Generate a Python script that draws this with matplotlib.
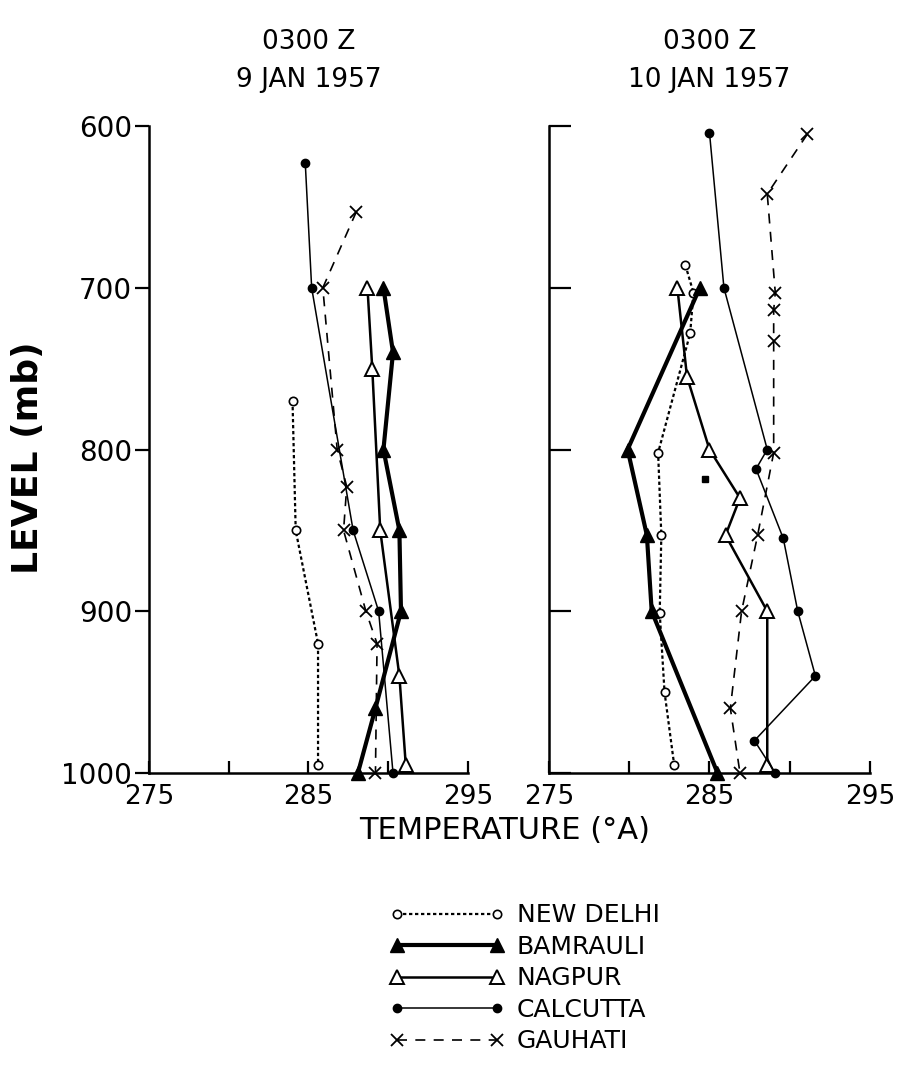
import matplotlib.pyplot as plt
import numpy as np

# ---- data (temperature in deg A, level in mb) ----
# 0300 Z 9 JAN 1957
dl9_t = [284.0, 284.2, 285.6, 285.6]
dl9_p = [770, 850, 920, 995]
bam9_t = [289.7, 290.3, 289.7, 290.7, 290.8, 289.2, 288.1]
bam9_p = [700, 740, 800, 850, 900, 960, 1000]
nag9_t = [288.7, 289.0, 289.5, 290.7, 291.1]
nag9_p = [700, 750, 850, 940, 995]
cal9_t = [284.8, 285.2, 287.8, 289.4, 290.3]
cal9_p = [623, 700, 850, 900, 1000]
gau9_t = [288.0, 285.9, 286.8, 287.4, 287.2, 288.6, 289.3, 289.2]
gau9_p = [653, 700, 800, 823, 850, 900, 920, 1000]

# 0300 Z 10 JAN 1957
dl10_t = [283.5, 284.0, 283.8, 281.8, 282.0, 281.9, 282.2, 282.8]
dl10_p = [686, 703, 728, 802, 853, 901, 950, 995]
bam10_t = [284.4, 279.9, 281.1, 281.4, 285.5]
bam10_p = [700, 800, 853, 900, 1000]
nag10_t = [283.0, 283.6, 285.0, 286.9, 286.0, 288.6, 288.6]
nag10_p = [700, 755, 800, 830, 853, 900, 995]
cal10_t = [285.0, 285.9, 288.6, 287.9, 289.6, 290.5, 291.6, 287.8, 289.1]
cal10_p = [604, 700, 800, 812, 855, 900, 940, 980, 1000]
cal10_extra_t = [284.7]
cal10_extra_p = [818]
gau10_t = [291.1, 288.6, 289.1, 289.0, 289.0, 289.0, 288.0, 287.0, 286.3, 286.9]
gau10_p = [605, 642, 703, 714, 733, 802, 853, 900, 960, 1000]

names = ['NEW DELHI', 'BAMRAULI', 'NAGPUR', 'CALCUTTA', 'GAUHATI']

styles = [
    dict(color='k', lw=1.6, ls=(0, (1.5, 1.2)), marker='o', ms=6, mfc='white', mew=1.2),
    dict(color='k', lw=3.0, ls='-', marker='^', ms=9.5, mfc='k'),
    dict(color='k', lw=1.8, ls='-', marker='^', ms=9.5, mfc='white', mew=1.4),
    dict(color='k', lw=1.1, ls='-', marker='o', ms=6, mfc='k'),
    dict(color='k', lw=1.2, ls=(0, (6, 5)), marker='x', ms=8, mew=1.3),
]

plt.rcParams['font.family'] = ['DejaVu Sans']

fig = plt.figure(figsize=(9.05, 10.69), dpi=100)
ax1 = fig.add_axes([0.1646, 0.2769, 0.3525, 0.6052])
ax2 = fig.add_axes([0.6066, 0.2769, 0.3547, 0.6052])

day9 = [(dl9_t, dl9_p), (bam9_t, bam9_p), (nag9_t, nag9_p), (cal9_t, cal9_p), (gau9_t, gau9_p)]
day10 = [(dl10_t, dl10_p), (bam10_t, bam10_p), (nag10_t, nag10_p), (cal10_t, cal10_p), (gau10_t, gau10_p)]

handles = []
for (t, p), st, nm in zip(day9, styles, names):
    h, = ax1.plot(t, p, label=nm, clip_on=False, zorder=3, **st)
    handles.append(h)
for (t, p), st in zip(day10, styles):
    ax2.plot(t, p, clip_on=False, zorder=3, **st)
ax2.plot(cal10_extra_t, cal10_extra_p, ls='none', marker='s', ms=5, color='k')

for ax in (ax1, ax2):
    ax.set_xlim(275, 295)
    ax.set_ylim(1000, 600)
    ax.set_xticks([275, 280, 285, 290, 295])
    ax.set_xticklabels(['275', '', '285', '', '295'])
    ax.set_yticks([600, 700, 800, 900, 1000])
    for s in ['top', 'right']:
        ax.spines[s].set_visible(False)
    for s in ['left', 'bottom']:
        ax.spines[s].set_linewidth(1.8)
    ax.tick_params(axis='x', direction='in', length=9, width=1.6, labelsize=19, pad=8)
    ax.set_facecolor('none')

ax1.tick_params(axis='y', direction='out', length=10, width=1.6, labelsize=20, pad=2)
ax2.tick_params(axis='y', direction='in', length=16, width=1.6, labelleft=False)

ax1.set_title('0300 Z\n9 JAN 1957', fontsize=19, linespacing=1.6, pad=28)
ax2.set_title('0300 Z\n10 JAN 1957', fontsize=19, linespacing=1.6, pad=28)

fig.text(0.031, 0.572, 'LEVEL (mb)', rotation=90, fontsize=26, fontweight='bold',
         ha='center', va='center')
fig.text(0.558, 0.223, 'TEMPERATURE (°A)', fontsize=22, ha='center', va='center')

fig.legend(handles=handles, loc='upper left', bbox_to_anchor=(0.43, 0.155),
           frameon=False, fontsize=18, numpoints=2, handlelength=4.6,
           handletextpad=0.5, labelspacing=0.3, borderpad=0, borderaxespad=0)

fig.savefig('out.png', dpi=100)
